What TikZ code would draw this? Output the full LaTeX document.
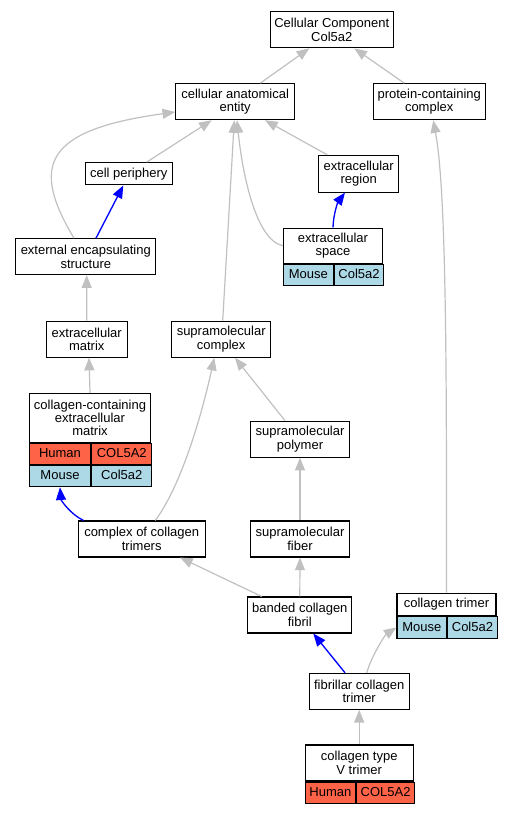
\documentclass[tikz,border=0pt]{standalone}
\usepackage{fontspec}
\setmainfont{Liberation Sans}
\usepackage[]{xcolor}
\usetikzlibrary{arrows.meta,calc}
\definecolor{edgegray}{RGB}{192,192,192}
\definecolor{humanred}{RGB}{255,99,71}
\definecolor{mouseblue}{RGB}{173,216,230}

\begin{document}
\begin{tikzpicture}[
            x=0.75pt, y=-0.75pt,
            font=\fontsize{9.75pt}{10pt}\selectfont,
            term/.style={rectangle, draw, line width=0.8pt, fill=white, align=center, inner sep=1pt, minimum height=27pt},
            cell/.style={rectangle, draw, line width=0.8pt, inner sep=1pt, minimum height=16pt, text height=7pt, text depth=1.5pt, anchor=north west},
            human/.style={cell, fill=humanred},
            mouse/.style={cell, fill=mouseblue},
            isa/.style={-{Triangle[length=9.5pt, width=7.5pt]}, draw=edgegray, line width=0.9pt},
            partof/.style={-{Triangle[length=9.5pt, width=7.5pt]}, draw=blue, line width=1pt}
        ]
            \useasboundingbox (0,0) rectangle (512,813);

            \node[term, minimum width=92.25pt] (cc) at (331.8,29.8) {Cellular Component\\Col5a2};
            \node[term, minimum width=89.25pt] (cae) at (235.2,101.7) {cellular anatomical\\entity};
            \node[term, minimum width=84.2pt] (pcc) at (429.2,101.7) {protein-containing\\complex};
            \node[term, minimum width=65pt, minimum height=16.7pt] (cp) at (128.7,173.8) {cell periphery};
            \node[term, minimum width=60pt, minimum height=27.5pt] (er) at (358.7,173.7) {extracellular\\region};
            \node[term, minimum width=105.2pt] (ees) at (85.8,256.7) {external encapsulating\\structure};
            \node[term, minimum width=74.5pt, minimum height=26.5pt] (es) at (333,245.7) {extracellular\\space};
            \node[mouse, minimum width=37.5pt] (esM) at (es.south west) {Mouse};
            \node[mouse, minimum width=37pt] (esG) at (esM.north east) {Col5a2};
            \node[term, minimum width=60.5pt] (em) at (86.7,339.2) {extracellular\\matrix};
            \node[term, minimum width=74.25pt] (smc) at (221.2,339.2) {supramolecular\\complex};
            \node[term, minimum width=91pt, minimum height=37pt] (ccem) at (90,418) {collagen-containing\\extracellular\\matrix};
            \node[human, minimum width=46pt, minimum height=15.5pt] (ccemH) at (ccem.south west) {Human};
            \node[human, minimum width=45pt, minimum height=15.5pt] (ccemHG) at (ccemH.north east) {COL5A2};
            \node[mouse, minimum width=46pt] (ccemM) at (ccemH.south west) {Mouse};
            \node[mouse, minimum width=45pt] (ccemMG) at (ccemM.north east) {Col5a2};
            \node[term, minimum width=74pt] (smp) at (300,439.2) {supramolecular\\polymer};
            \node[term, minimum width=95pt] (cct) at (141.7,539) {complex of collagen\\trimers};
            \node[term, minimum width=74pt] (smf) at (300,539) {supramolecular\\fiber};
            \node[term, minimum width=78.2pt] (bcf) at (299.8,615) {banded collagen\\fibril};
            \node[term, minimum width=74.25pt, minimum height=16.7pt] (ct) at (446.5,604.2) {collagen trimer};
            \node[mouse, minimum width=37.3pt, minimum height=16.5pt] (ctM) at (ct.south west) {Mouse};
            \node[mouse, minimum width=37pt, minimum height=16.5pt] (ctG) at (ctM.north east) {Col5a2};
            \node[term, minimum width=74.8pt] (fct) at (359.2,691.3) {fibrillar collagen\\trimer};
            \node[term, minimum width=81.2pt] (ctv) at (359.2,763) {collagen type\\V trimer};
            \node[human, minimum width=38pt] (ctvH) at (ctv.south west) {Human};
            \node[human, minimum width=43.2pt] (ctvG) at (ctvH.north east) {COL5A2};

            \draw[isa] ($(cae.north)+(25.1,0)$) -- ($(cc.south)+(-22.5,0)$);
            \draw[isa] ($(pcc.north)+(-24.9,0)$) -- ($(cc.south)+(22.5,0)$);
            \draw[isa] ($(ees.north)+(-11.8,0)$) .. controls (30,165) and (45,130) .. ($(cae.west)+(0,10.3)$);
            \draw[isa] ($(cp.north)+(18,0)$) -- ($(cae.south)+(-23.5,0)$);
            \draw[isa] ($(er.north)+(-31.4,0)$) -- ($(cae.south)+(29.8,0)$);
            \draw[isa] ($(smc.north)+(1.5,0)$) -- ($(cae.south)+(-0.9,0)$);
            \draw[isa] (es.west) .. controls (255,240) and (242,170) .. ($(cae.south)+(1.8,0)$);
            \draw[partof] ($(ees.north)+(10.2,0)$) -- ($(cp.south)+(-5.4,0)$);
            \draw[partof] (es.north) .. controls (333.3,214) and (338,202) .. ($(er.south)+(-13.7,0)$);
            \draw[isa] (ct.north) .. controls (446.7,350) and (446,190) .. ($(pcc.south)+(4.1,0)$);
            \draw[isa] (em.north) -- ($(ees.south)+(0.9,0)$);
            \draw[isa] (ccem.north) -- ($(em.south)+(2.3,0)$);
            \draw[isa] ($(smp.north)+(-15,0)$) -- ($(smc.south)+(13.8,0)$);
            \draw[isa] ($(cct.north)+(13.6,0)$) .. controls (185,480) and (205,400) .. ($(smc.south)+(-6.9,0)$);
            \draw[partof] ($(cct.north west)+(5.7,0)$) .. controls (70,514) and (61,500) .. (ccemM.south);
            \draw[isa] (smf.north) -- (smp.south);
            \draw[isa] (bcf.north) -- (smf.south);
            \draw[isa] ($(bcf.north)+(-38.1,0)$) -- ($(cct.south)+(38.3,0)$);
            \draw[partof] ($(fct.north)+(-14.2,0)$) -- ($(bcf.south)+(13.5,0)$);
            \draw[isa] ($(fct.north)+(7.5,0)$) .. controls (372,655) and (385,635) .. (ctM.west);
            \draw[isa] (ctv.north) -- (fct.south);
        \end{tikzpicture}
\end{document}
